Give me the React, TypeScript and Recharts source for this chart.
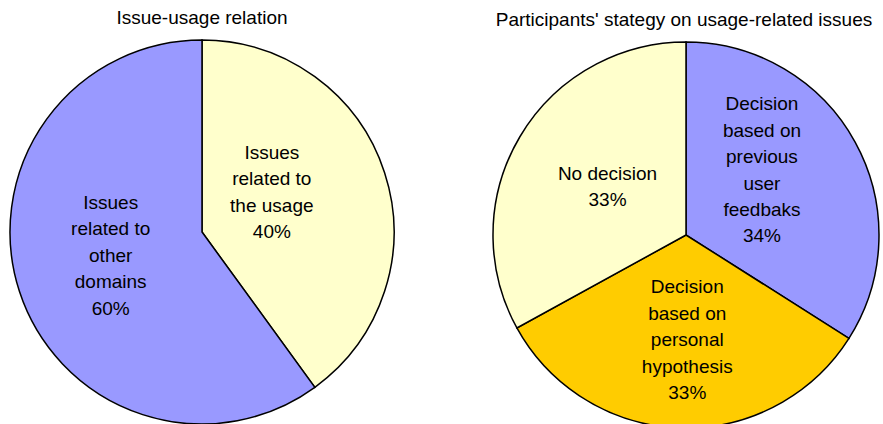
import { PieChart, Pie, Cell } from 'recharts';

// left pie: issue-usage relation
const usageLabels = [
  ['Issues', 'related to', 'the usage'],
  ['Issues', 'related to', 'other', 'domains'],
];
const usageValues = [40, 60];
const usageColors = ['#FFFFCC', '#9999FF'];

// right pie: participants' strategy
const strategyLabels = [
  ['Decision', 'based on', 'previous', 'user', 'feedbaks'],
  ['Decision', 'based on', 'personal', 'hypothesis'],
  ['No decision'],
];
const strategyValues = [34, 33, 33];
const strategyColors = ['#9999FF', '#FFCC00', '#FFFFCC'];

// label placement inside each slice (fraction of radius, angle nudge in degrees)
const usagePlacement = [
  { r: 0.42, turn: 12 },
  { r: 0.49, turn: -4 },
];
const strategyPlacement = [
  { r: 0.52, turn: 12 },
  { r: 0.54, turn: 2.5 },
  { r: 0.48, turn: -1.5 },
];

const FONT = '"Liberation Sans", Arial, sans-serif';
const RAD = Math.PI / 180;

const makeLabel = (lines: string[][], place: { r: number; turn: number }[]) => (props: any) => {
  const { cx, cy, midAngle, outerRadius, index, value } = props;
  const p = place[index];
  const r = outerRadius * p.r;
  const a = midAngle + p.turn;
  const x = cx + r * Math.cos(-a * RAD);
  const y = cy + r * Math.sin(-a * RAD);
  const all = [...lines[index], `${value}%`];
  const lh = 26.4;
  const y0 = y - ((all.length - 1) * lh) / 2;
  return (
    <text
      x={x}
      y={y0}
      textAnchor="middle"
      dominantBaseline="central"
      fill="#000"
      fontSize={19}
      fontFamily={FONT}
    >
      {all.map((l, i) => (
        <tspan key={i} x={x} y={y0 + i * lh}>
          {l}
        </tspan>
      ))}
    </text>
  );
};

export default function App() {
  const usageData = usageValues.map((v, i) => ({ name: usageLabels[i].join(' '), value: v }));
  const strategyData = strategyValues.map((v, i) => ({ name: strategyLabels[i].join(' '), value: v }));

  return (
    <div style={{ position: 'absolute', left: 0, top: 0, width: 883, height: 424, background: '#fff' }}>
      <div
        style={{
          position: 'absolute', left: 0, width: 404, top: 7, textAlign: 'center',
          fontFamily: FONT, fontSize: 19, color: '#000',
        }}
      >
        Issue-usage relation
      </div>
      <div
        style={{
          position: 'absolute', left: 484, width: 400, top: 9, textAlign: 'center',
          fontFamily: FONT, fontSize: 19, color: '#000',
        }}
      >
        Participants' stategy on usage-related issues
      </div>
      <PieChart
        width={883}
        height={424}
        margin={{ top: 0, right: 0, bottom: 0, left: 0 }}
        style={{ position: 'absolute', left: 0, top: 0 }}
      >
        <Pie
          data={usageData}
          dataKey="value"
          cx={202}
          cy={232}
          outerRadius={192}
          startAngle={90}
          endAngle={-270}
          stroke="#000"
          strokeWidth={1.5}
          labelLine={false}
          label={makeLabel(usageLabels, usagePlacement)}
          isAnimationActive={false}
        >
          {usageData.map((_, i) => (
            <Cell key={i} fill={usageColors[i]} />
          ))}
        </Pie>
        <Pie
          data={strategyData}
          dataKey="value"
          cx={686}
          cy={235}
          outerRadius={193}
          startAngle={90}
          endAngle={-270}
          stroke="#000"
          strokeWidth={1.5}
          labelLine={false}
          label={makeLabel(strategyLabels, strategyPlacement)}
          isAnimationActive={false}
        >
          {strategyData.map((_, i) => (
            <Cell key={i} fill={strategyColors[i]} />
          ))}
        </Pie>
      </PieChart>
    </div>
  );
}
